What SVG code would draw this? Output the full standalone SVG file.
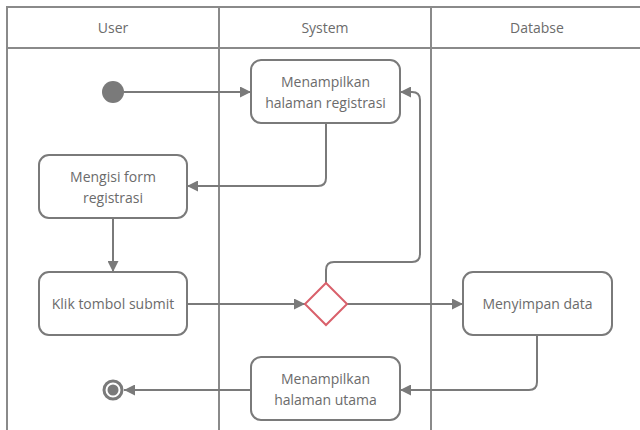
<svg xmlns="http://www.w3.org/2000/svg" width="640" height="430" viewBox="0 0 640 430">
  <style>
    .lane { fill: none; stroke: #8a8a8a; stroke-width: 2; }
    .node { fill: #ffffff; stroke: #7a7a7a; stroke-width: 2; }
    .label { font-family: "Open Sans", "Noto Sans", sans-serif; font-size: 14px; fill: #6b6b6b; text-anchor: middle; }
    .edge { fill: none; stroke: #7a7a7a; stroke-width: 2; stroke-linejoin: round; }
    .decision { fill: #ffffff; stroke: #d9606b; stroke-width: 2; }
  </style>
  <defs>
    <marker id="arrow" viewBox="0 0 10 10" refX="10" refY="5" markerWidth="11" markerHeight="11" markerUnits="userSpaceOnUse" orient="auto">
      <path d="M0,0 L10,5 L0,10 Z" fill="#7a7a7a"/>
    </marker>
  </defs>

  <rect width="640" height="430" fill="#ffffff"/>

  <!-- swimlanes -->
  <g id="lanes">
    <path class="lane" d="M7,431 V7 H641 M7,48 H641 M219,7 V431 M431,7 V431"/>
    <text class="label" x="113" y="33">User</text>
    <text class="label" x="325" y="33">System</text>
    <text class="label" x="537" y="33">Databse</text>
  </g>

  <!-- connectors -->
  <g id="connectors">
    <path class="edge" marker-end="url(#arrow)" d="M124,92 H251"/>
    <path class="edge" marker-end="url(#arrow)" d="M326,123 V178 Q326,186 318,186 H187"/>
    <path class="edge" marker-end="url(#arrow)" d="M113,218 V272"/>
    <path class="edge" marker-end="url(#arrow)" d="M187,304 H305"/>
    <path class="edge" marker-end="url(#arrow)" d="M326,283 V270 Q326,262 334,262 H412 Q420,262 420,254 V100 Q420,92 412,92 H400"/>
    <path class="edge" marker-end="url(#arrow)" d="M347,304 H463"/>
    <path class="edge" marker-end="url(#arrow)" d="M537,335 V382 Q537,390 529,390 H400"/>
    <path class="edge" marker-end="url(#arrow)" d="M251,390 H124"/>
  </g>

  <g id="start">
    <circle cx="113" cy="92" r="11" fill="#7a7a7a"/>
  </g>

  <g id="show-registration">
    <rect class="node" x="251" y="60" width="149" height="63" rx="10"/>
    <text class="label" x="325.5" y="87">Menampilkan</text>
    <text class="label" x="325.5" y="108">halaman registrasi</text>
  </g>

  <g id="fill-form">
    <rect class="node" x="39" y="155" width="148" height="63" rx="10"/>
    <text class="label" x="113" y="182">Mengisi form</text>
    <text class="label" x="113" y="203">registrasi</text>
  </g>

  <g id="click-submit">
    <rect class="node" x="39" y="272" width="148" height="63" rx="10"/>
    <text class="label" x="113" y="309">Klik tombol submit</text>
  </g>

  <g id="decision">
    <path class="decision" d="M326,283 L347,304 L326,325 L305,304 Z"/>
  </g>

  <g id="save-data">
    <rect class="node" x="463" y="272" width="149" height="63" rx="10"/>
    <text class="label" x="537.5" y="309">Menyimpan data</text>
  </g>

  <g id="show-home">
    <rect class="node" x="251" y="357" width="149" height="63" rx="10"/>
    <text class="label" x="325.5" y="384">Menampilkan</text>
    <text class="label" x="325.5" y="405">halaman utama</text>
  </g>

  <g id="end">
    <circle cx="113" cy="390" r="9" fill="#ffffff" stroke="#7a7a7a" stroke-width="3"/>
    <circle cx="113" cy="390" r="5.5" fill="#7a7a7a"/>
  </g>
</svg>
